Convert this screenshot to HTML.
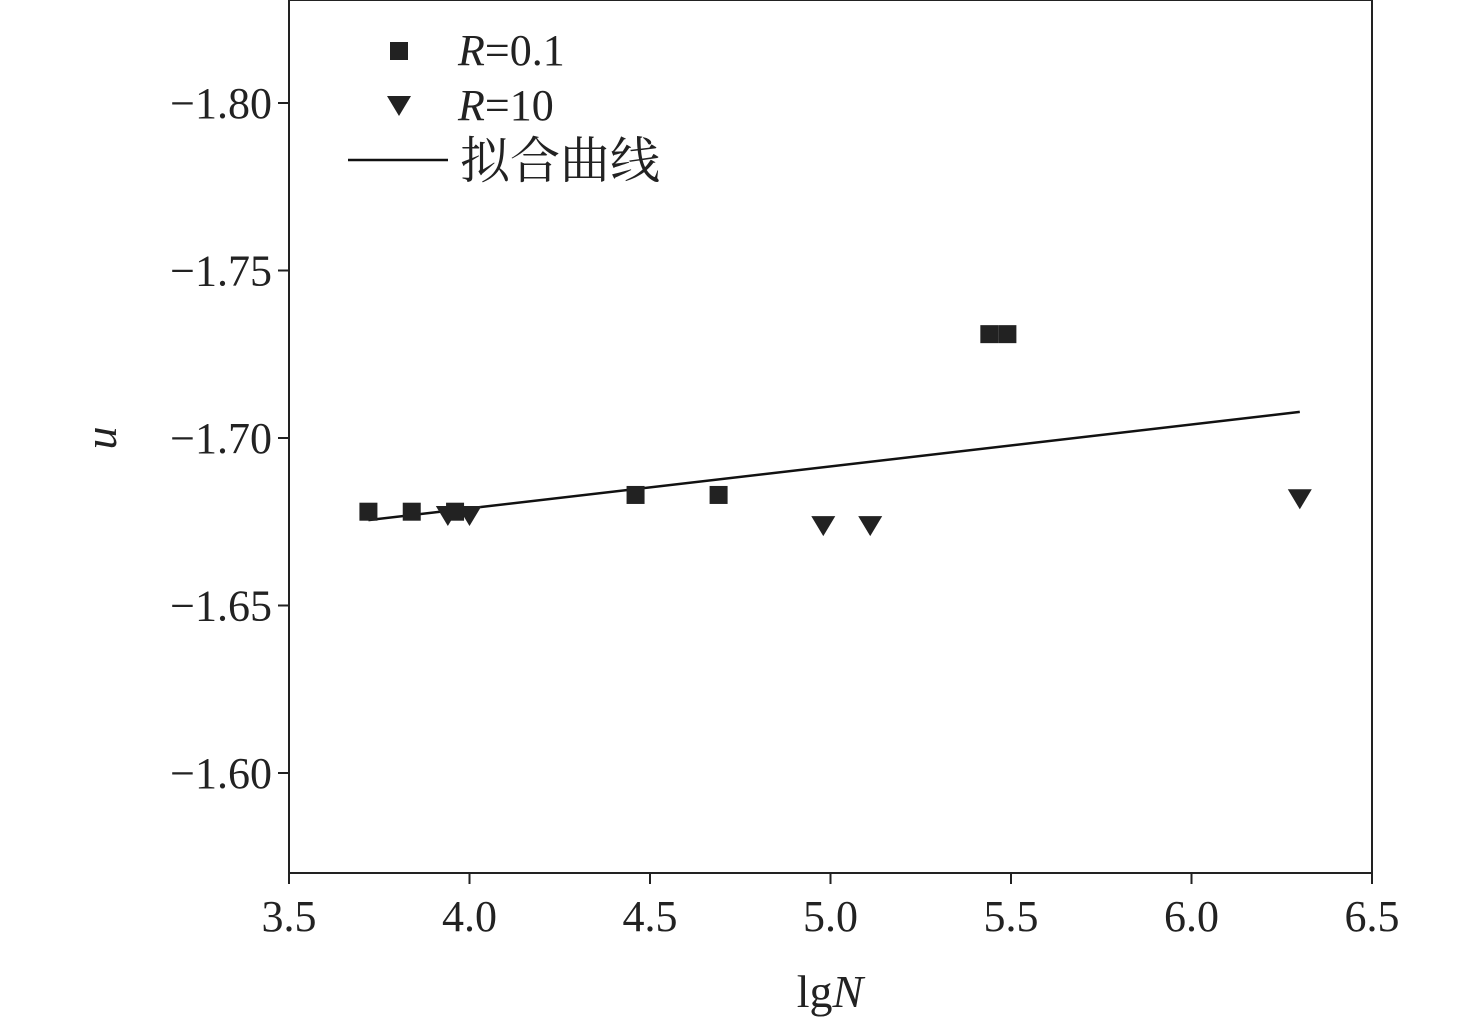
<!DOCTYPE html>
<html><head><meta charset="utf-8"><style>
body{margin:0;background:#fff}
svg text{font-family:"Liberation Serif","Times New Roman",Times,serif;fill:#222}
svg text.cjk{font-family:"Noto Serif CJK SC","Noto Sans CJK SC",serif}
</style></head><body>
<svg id="c" width="1476" height="1021" xmlns="http://www.w3.org/2000/svg"></svg>
<script>
const xTicks=[3.5,4.0,4.5,5.0,5.5,6.0,6.5];
const yTicks=[-1.80,-1.75,-1.70,-1.65,-1.60];
const r01X=[3.72,3.84,3.96,4.46,4.69,5.44,5.49];
const r01Y=[-1.678,-1.678,-1.678,-1.683,-1.683,-1.731,-1.731];
const r10X=[3.94,4.00,4.98,5.11,6.30];
const r10Y=[-1.677,-1.677,-1.674,-1.674,-1.682];
const fitX=[3.72,6.30];
const fitY=[-1.6755,-1.7078];
const L=289,R=1372,T=0,B=873;
const sx=v=>L+(v-3.5)/3*(R-L);
const sy=v=>103+(v+1.80)/0.05*167.5;
const svg=document.getElementById('c');
const NS='http://www.w3.org/2000/svg';
function mk(t,a,p){const e=document.createElementNS(NS,t);for(const k in a)e.setAttribute(k,a[k]);(p||svg).appendChild(e);return e;}
let f=mk('rect',{x:L,y:T,width:R-L,height:B-T,fill:'none',stroke:'#222','stroke-width':2});


xTicks.forEach(v=>{
 const l=mk('line',{x1:sx(v),x2:sx(v),y1:B,y2:B+11,stroke:'#222','stroke-width':2});
 
 
 const t=mk('text',{x:sx(v),y:B+58,'font-size':44,'text-anchor':'middle'});t.textContent=v.toFixed(1);
 
 
});
yTicks.forEach(v=>{
 const l=mk('line',{x1:L-11,x2:L,y1:sy(v),y2:sy(v),stroke:'#222','stroke-width':2});
 
 
 const t=mk('text',{x:272,y:sy(v)+15,'font-size':44,'text-anchor':'end'});
 t.textContent='\u2212'+Math.abs(v).toFixed(2);
 
 
});
let xt=mk('text',{x:830,y:1007,'font-size':46,'text-anchor':'middle'});xt.innerHTML='lg<tspan font-style="italic">N</tspan>';


let yt=mk('text',{x:0,y:0,'font-size':46,'font-style':'italic','text-anchor':'middle',transform:'translate(116,438) rotate(-90)'});yt.textContent='u';


let fl=mk('line',{x1:sx(fitX[0]),y1:sy(fitY[0]),x2:sx(fitX[1]),y2:sy(fitY[1]),stroke:'#111','stroke-width':2.5});


function sq(x,y){return mk('rect',{x:x-9,y:y-9,width:18,height:18,fill:'#222'});}
function tri(x,y){return mk('polygon',{points:`${x-12},${y-9} ${x+12},${y-9} ${x},${y+11}`,fill:'#222'});}
r01X.forEach((v,i)=>{const e=sq(sx(v),sy(r01Y[i]));
 
 });
r10X.forEach((v,i)=>{const e=tri(sx(v),sy(r10Y[i]));
 
 });
let g=mk('g',{});


mk('rect',{x:390,y:42,width:18,height:18,fill:'#222'},g);
mk('polygon',{points:'387,96 411,96 399,116',fill:'#222'},g);
mk('line',{x1:348,x2:448,y1:160,y2:160,stroke:'#111','stroke-width':2.5},g);
let a=mk('text',{x:458,y:65,'font-size':44},g);a.innerHTML='<tspan font-style="italic">R</tspan>=0.1';
let b=mk('text',{x:458,y:120,'font-size':44},g);b.innerHTML='<tspan font-style="italic">R</tspan>=10';
let c=mk('text',{x:460,y:178,'font-size':50,class:'cjk'},g);c.textContent='拟合曲线';
</script>
</body></html>
